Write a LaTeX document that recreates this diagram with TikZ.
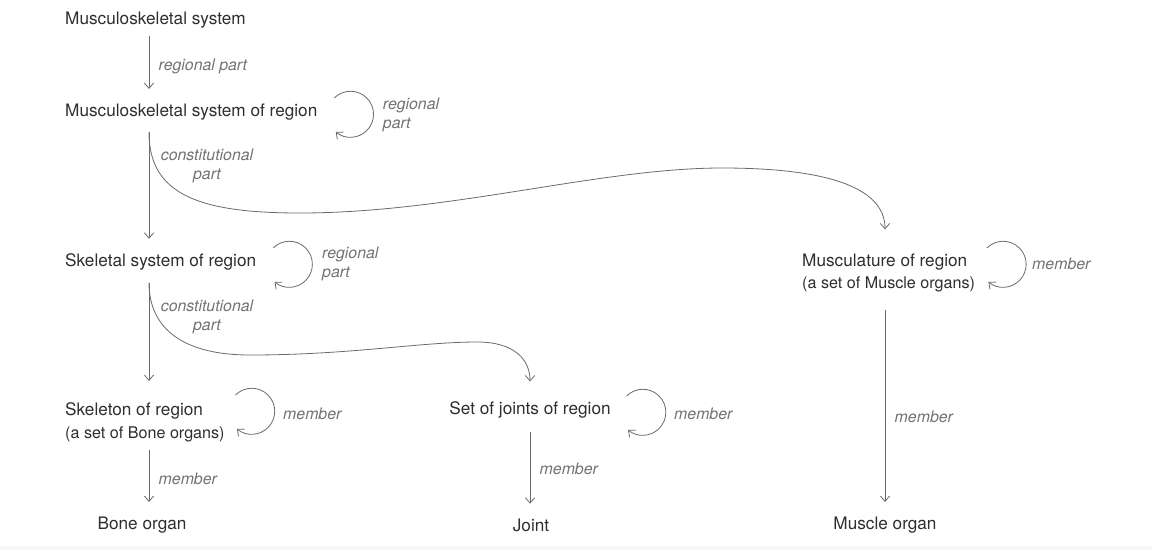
\documentclass[tikz,border=0pt]{standalone}
\usepackage{fontspec}
\setmainfont{TeX Gyre Heros}
\usetikzlibrary{positioning, arrows.meta}

\definecolor{inkgray}{HTML}{2E2E2E}
\definecolor{relgray}{HTML}{727272}
\definecolor{linegray}{HTML}{6A6A6A}

\newcommand{\setline}[1]{{\fontsize{12.1}{17}\selectfont #1}}

\tikzstyle{concept} = [font=\fontsize{12.9}{17}\selectfont, text=inkgray, inner xsep=2pt, inner ysep=6pt, align=left]
\tikzstyle{rel} = [font=\fontsize{11.9}{14.3}\selectfont\itshape, text=relgray, inner sep=2pt, align=left]
\tikzstyle{arrow} = [draw=linegray, line width=0.6pt, -{Straight Barb[length=4pt, width=7pt]}, shorten >=5pt]
\tikzstyle{selfarrow} = [draw=linegray, line width=0.6pt, -{Straight Barb[length=4pt, width=7pt]}]

\begin{document}
\begin{tikzpicture}[x=0.75pt, y=-0.75pt]
\useasboundingbox (0,0) rectangle (1152,550);
\fill [black!3] (0,546) rectangle (1152,550);

\coordinate (spine) at (149,0);

\node (ms) [concept, anchor=west] at (62.3,20) {Musculoskeletal system};

\node (msr) [concept, below=69pt of ms.west, anchor=west] {Musculoskeletal system of region};

\node (ssr) [concept, below=112.5pt of msr.west, anchor=west] {Skeletal system of region};

\node (skr) [concept, below=120pt of ssr.west, anchor=west] {Skeleton of region\\\setline{(a set of Bone organs)}};

\node (sjr) [concept] at (530,410) {Set of joints of region};

\node (mur) [concept, anchor=west] at (799.3,273) {Musculature of region\\\setline{(a set of Muscle organs)}};

\node (bone) [concept] at (142,525) {Bone organ};

\node (joint) [concept] at (531,525) {Joint};

\node (muscle) [concept] at (885,525) {Muscle organ};

% labels beside the loops and curves
\node (cp1) [rel, align=center] at (207,166) {constitutional\\part};
\node (cp2) [rel, align=center] at (207,317) {constitutional\\part};
\node (rl1) [rel, anchor=west] at (380,115) {regional\\part};
\node (rl2) [rel, anchor=west] at (319.3,264) {regional\\part};
\node (ml1) [rel, anchor=west] at (280.3,414) {member};
\node (ml2) [rel, anchor=west] at (671.3,414) {member};
\node (ml3) [rel, anchor=west] at (1029.3,264) {member};

\draw [arrow] (ms.south -| spine) -- node (rp) [rel, right=5pt] {regional part} (msr.north -| spine);
\draw [arrow, shorten <=3pt] (msr.south -| spine) -- (ssr.north -| spine);
\draw [arrow, shorten <=3pt, shorten >=12pt] (msr.south -| spine) .. controls (149,195) and (200,213) .. (300,213) .. controls (450,213) and (600,168) .. (722,168) .. controls (820,168) and (885,185) .. (mur.north -| muscle);
\draw [arrow, shorten <=3pt, shorten >=10pt] (ssr.south -| spine) -- (skr.north -| spine);
\draw [arrow, shorten <=3pt, shorten >=9pt] (ssr.south -| spine) .. controls (149,330) and (185,355) .. (250,355) .. controls (350,355) and (420,342) .. (477,342) .. controls (515,342) and (530,360) .. (sjr.north);
\draw [arrow] (skr.south -| spine) -- node (mb1) [rel, right=5pt] {member} (bone.north -| spine);
\draw [arrow, shorten <=4pt] (sjr.south) -- node (mb2) [rel, right=5pt] {member} (sjr.south |- joint.north);
\draw [arrow, shorten <=7pt] (mur.south -| muscle) -- node (mb3) [rel, right=5pt, pos=0.56] {member} (muscle.north);

\draw [selfarrow] ([shift={(14,-14)}]msr.east) arc [start angle=135, end angle=-130, radius=17.25pt];
\draw [selfarrow] ([shift={(14,-14)}]ssr.east) arc [start angle=135, end angle=-130, radius=17.25pt];
\draw [selfarrow] ([shift={(8,-27)}]skr.east) arc [start angle=135, end angle=-130, radius=17.25pt];
\draw [selfarrow] ([shift={(13,-14)}]sjr.east) arc [start angle=135, end angle=-130, radius=17.25pt];
\draw [selfarrow] ([shift={(9,-25)}]mur.east) arc [start angle=135, end angle=-130, radius=17.25pt];

\end{tikzpicture}
\end{document}
